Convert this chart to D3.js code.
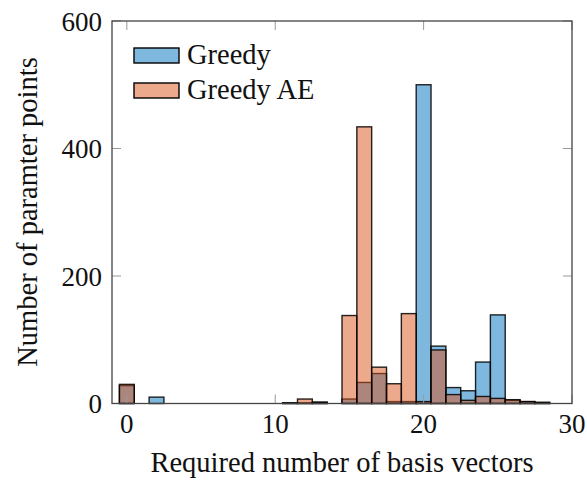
<!DOCTYPE html>
<html>
<head>
<meta charset="utf-8">
<script src="https://cdn.jsdelivr.net/npm/d3@7"></script>
<style>
  html, body { margin: 0; padding: 0; background: #fff; }
  svg { display: block; }
</style>
</head>
<body>
<svg id="chart" width="587" height="481"></svg>
<script>
// Bin centers (required number of basis vectors)
const bins = [0,1,2,3,4,5,6,7,8,9,10,11,12,13,14,15,16,17,18,19,20,21,22,23,24,25,26,27,28];
// Counts per bin
const greedy   = [28,0,10,0,0,0,0,0,0,0,0,1,1,2,0,7,33,47,3,3,500,90,25,20,65,139,5,3,1];
const greedyAE = [30,0,0,0,0,0,0,0,0,0,0,1,7,2,0,138,434,57,31,141,3,84,14,5,11,8,6,3,2];
const seriesNames = ["Greedy", "Greedy AE"];
const seriesColors = ["#0072BD", "#D95319"];
const xTicks = [0, 10, 20, 30];
const yTicks = [0, 200, 400, 600];
const xTitle = "Required number of basis vectors";
const yTitle = "Number of paramter points";

const FONT = '"Liberation Serif"';
const svg = d3.select("#chart");
const L = 112, R = 572, T = 21, B = 403.5;
const x = d3.scaleLinear().domain([-1, 30]).range([L, R]);
const y = d3.scaleLinear().domain([0, 600]).range([B, T]);

const seriesData = [greedy, greedyAE];

seriesData.forEach((vals, si) => {
  const data = bins.map((b, i) => ({b, v: vals[i]})).filter(d => d.v > 0);
  svg.append("g").selectAll("rect").data(data).join("rect")
    .attr("x", d => x(d.b - 0.5))
    .attr("width", d => x(d.b + 0.5) - x(d.b - 0.5))
    .attr("y", d => y(d.v))
    .attr("height", d => y(0) - y(d.v))
    .attr("fill", seriesColors[si])
    .attr("fill-opacity", 0.5)
    .attr("stroke", "#000")
    .attr("stroke-opacity", 0.85)
    .attr("stroke-width", 1.4);
});

// ticks inside on all four sides
const tickLen = 9;
const tg = svg.append("g").attr("stroke", "#999").attr("stroke-width", 1);
xTicks.forEach(t => {
  tg.append("line").attr("x1", x(t)).attr("x2", x(t)).attr("y1", B).attr("y2", B - tickLen);
  tg.append("line").attr("x1", x(t)).attr("x2", x(t)).attr("y1", T).attr("y2", T + tickLen);
});
yTicks.forEach(t => {
  tg.append("line").attr("x1", L).attr("x2", L + tickLen).attr("y1", y(t)).attr("y2", y(t));
  tg.append("line").attr("x1", R).attr("x2", R - tickLen).attr("y1", y(t)).attr("y2", y(t));
});

// frame
svg.append("rect").attr("x", L).attr("y", T).attr("width", R - L).attr("height", B - T)
  .attr("fill", "none").attr("stroke", "#444").attr("stroke-width", 1.3);

function txt(sel) { return sel.style("font-family", FONT).attr("fill", "#111"); }

// tick labels
txt(svg.append("g").selectAll("text").data(xTicks).join("text"))
  .attr("x", d => x(d)).attr("y", 433)
  .attr("text-anchor", "middle").attr("font-size", 27)
  .text(d => d);
txt(svg.append("g").selectAll("text").data(yTicks).join("text"))
  .attr("x", 102).attr("y", d => y(d) + 9.5)
  .attr("text-anchor", "end").attr("font-size", 27)
  .text(d => d);

// axis titles
txt(svg.append("text")).attr("x", 342).attr("y", 472)
  .attr("text-anchor", "middle").attr("font-size", 28.5).text(xTitle);
txt(svg.append("text")).attr("transform", `translate(37,${212}) rotate(-90)`)
  .attr("text-anchor", "middle").attr("font-size", 28.5).text(yTitle);

// legend
const lg = svg.append("g");
seriesNames.forEach((name, i) => {
  const yy = 48 + i * 35;
  lg.append("rect").attr("x", 134).attr("y", yy).attr("width", 45).attr("height", 15)
    .attr("fill", seriesColors[i]).attr("fill-opacity", 0.5)
    .attr("stroke", "#000").attr("stroke-width", 1.4);
  txt(lg.append("text")).attr("x", 187).attr("y", yy + 16).attr("font-size", 28.5).text(name);
});
</script>
</body>
</html>
